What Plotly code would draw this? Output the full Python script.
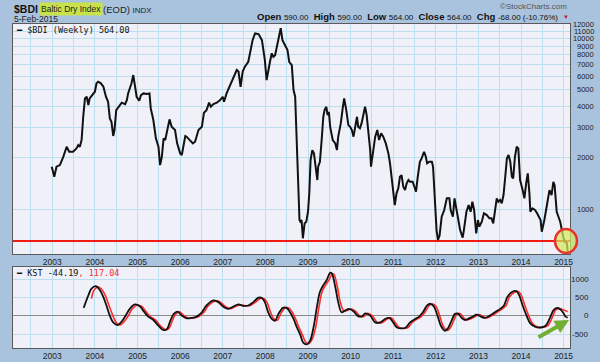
import math
import plotly.graph_objects as go

# ---------------- data ----------------
bdi_dates = [
    "2002-12-27", "2003-01-18", "2003-02-06", "2003-03-07", "2003-04-05", "2003-05-04", "2003-05-26",
    "2003-06-28", "2003-07-27", "2003-08-11", "2003-08-25", "2003-09-09", "2003-09-23", "2003-10-08",
    "2003-10-23", "2003-11-06", "2003-11-17", "2003-12-16", "2004-01-01", "2004-01-15", "2004-01-30",
    "2004-02-21", "2004-03-14", "2004-04-05", "2004-04-23", "2004-05-08", "2004-05-22", "2004-06-06",
    "2004-06-17", "2004-07-02", "2004-07-13", "2004-07-27", "2004-08-18", "2004-09-16", "2004-10-01",
    "2004-10-12", "2004-10-26", "2004-11-10", "2004-11-25", "2004-12-09", "2004-12-24", "2005-01-15",
    "2005-01-30", "2005-02-21", "2005-03-22", "2005-04-13", "2005-04-24", "2005-05-16", "2005-06-07",
    "2005-06-29", "2005-07-13", "2005-07-28", "2005-08-12", "2005-08-26", "2005-09-14", "2005-10-02",
    "2005-10-20", "2005-11-18", "2005-12-06", "2006-01-01", "2006-01-15", "2006-01-30", "2006-02-14",
    "2006-02-25", "2006-03-23", "2006-04-20", "2006-05-09", "2006-06-07", "2006-07-06", "2006-07-24",
    "2006-08-15", "2006-09-06", "2006-09-21", "2006-10-13", "2006-11-11", "2006-12-10", "2007-01-01",
    "2007-01-12", "2007-02-03", "2007-03-04", "2007-04-02", "2007-05-01", "2007-05-16", "2007-06-03",
    "2007-06-21", "2007-07-10", "2007-08-08", "2007-08-23", "2007-09-14", "2007-10-05", "2007-11-04",
    "2007-12-03", "2007-12-14", "2007-12-28", "2008-01-12", "2008-01-26", "2008-02-10", "2008-02-25",
    "2008-03-10", "2008-03-25", "2008-04-12", "2008-05-01", "2008-05-12", "2008-05-27", "2008-06-18",
    "2008-07-09", "2008-07-24", "2008-08-15", "2008-08-30", "2008-09-13", "2008-09-28", "2008-10-13",
    "2008-10-20", "2008-10-27", "2008-11-07", "2008-11-18", "2008-12-03", "2008-12-17", "2009-01-01",
    "2009-01-12", "2009-01-23", "2009-02-07", "2009-02-21", "2009-03-11", "2009-03-22", "2009-03-29",
    "2009-04-13", "2009-04-28", "2009-05-12", "2009-05-23", "2009-06-07", "2009-06-18", "2009-06-29",
    "2009-07-10", "2009-08-01", "2009-08-23", "2009-09-06", "2009-09-17", "2009-10-09", "2009-10-27",
    "2009-11-07", "2009-11-25", "2009-12-13", "2009-12-28", "2010-01-12", "2010-01-26", "2010-02-10",
    "2010-02-25", "2010-03-07", "2010-03-22", "2010-04-05", "2010-04-20", "2010-05-05", "2010-05-19",
    "2010-06-03", "2010-06-18", "2010-06-25", "2010-07-09", "2010-07-31", "2010-08-18", "2010-09-02",
    "2010-09-20", "2010-10-08", "2010-10-30", "2010-11-21", "2010-12-05", "2010-12-20", "2011-01-01",
    "2011-01-15", "2011-01-30", "2011-02-14", "2011-02-28", "2011-03-14", "2011-03-29", "2011-04-13",
    "2011-04-27", "2011-05-12", "2011-05-26", "2011-06-17", "2011-07-02", "2011-07-16", "2011-07-31",
    "2011-08-18", "2011-09-02", "2011-09-23", "2011-10-08", "2011-10-19", "2011-11-07", "2011-11-29",
    "2011-12-09", "2011-12-24", "2012-01-08", "2012-01-20", "2012-02-03", "2012-02-21", "2012-03-14",
    "2012-04-05", "2012-04-27", "2012-05-08", "2012-05-27", "2012-06-10", "2012-06-25", "2012-07-13",
    "2012-07-28", "2012-08-19", "2012-08-29", "2012-09-20", "2012-10-09", "2012-10-26", "2012-11-10",
    "2012-11-25", "2012-12-13", "2012-12-28", "2013-01-08", "2013-01-30", "2013-02-17", "2013-03-14",
    "2013-04-05", "2013-04-23", "2013-05-08", "2013-05-22", "2013-06-07", "2013-06-21", "2013-07-06",
    "2013-07-20", "2013-08-04", "2013-08-19", "2013-09-02", "2013-09-16", "2013-10-01", "2013-10-15",
    "2013-10-26", "2013-11-10", "2013-11-25", "2013-12-09", "2013-12-24", "2014-01-15", "2014-01-30",
    "2014-02-14", "2014-02-28", "2014-03-14", "2014-03-22", "2014-04-09", "2014-05-01", "2014-05-19",
    "2014-06-03", "2014-06-18", "2014-06-28", "2014-07-09", "2014-07-20", "2014-08-04", "2014-08-19",
    "2014-09-02", "2014-09-20", "2014-10-05", "2014-10-16", "2014-10-23", "2014-11-03", "2014-11-18",
    "2014-12-03", "2014-12-17", "2014-12-28", "2015-01-12", "2015-01-29", "2015-02-05",
]
bdi_values = [
    1770, 1546, 1770, 1810, 2024, 2317, 2166,
    2166, 2267, 2370, 2317, 2537, 3473, 4451,
    4551, 4064, 4451, 4760, 4872, 5455, 5580,
    5455, 5208, 4551, 4255, 3399, 3250, 2680,
    2904, 3800, 3889, 4010, 4200, 4120, 4350,
    4760, 5030, 5455, 6100, 5208, 4551, 4316,
    4650, 4760, 4720, 4760, 3889, 3325, 2597,
    2317, 1810, 2024, 2597, 2537, 2971, 3354,
    3033, 2904, 2425, 2120, 2073, 2317, 2680,
    2655, 2537, 2425, 2479, 2904, 3033, 3667,
    3800, 4200, 3975, 4120, 4200, 4350, 4551,
    4255, 4760, 5330, 5830, 6530, 6390, 5208,
    6390, 6830, 7300, 8180, 9770, 10700, 10600,
    9770, 8560, 7470, 5700, 6530, 7300, 8180,
    7810, 7980, 9340, 10930, 11470, 9770, 9140,
    8560, 7300, 6980, 4980, 4551, 2317, 1084,
    862, 843, 862, 674, 824, 843, 964,
    1236, 1936, 2215, 2120, 1692, 1479, 1770,
    1892, 2537, 3473, 3800, 3975, 3555, 3715,
    3033, 2537, 2425, 2215, 2655, 3176, 3975,
    4451, 3800, 3103, 3033, 2904, 2655, 3033,
    3473, 3033, 2971, 3176, 3635, 3975, 3555,
    2904, 2215, 1770, 2120, 2655, 2904, 2537,
    2780, 2655, 2425, 2120, 1852, 1546, 1292,
    1055, 1236, 1322, 1546, 1581, 1350, 1292,
    1414, 1479, 1445, 1445, 1350, 1263, 1546,
    1892, 1980, 2166, 2024, 1852, 1892, 1892,
    1770, 1180, 753, 660, 700, 901, 987,
    1155, 1155, 987, 901, 1155, 987, 862,
    753, 680, 750, 964, 1055, 964, 1103,
    987, 720, 862, 788, 843, 944, 922,
    882, 882, 824, 964, 1155, 1103, 1129,
    1080, 1208, 1546, 1980, 2073, 1892, 1546,
    1512, 2024, 2317, 2267, 1479, 1292, 1155,
    1414, 1618, 1236, 964, 1009, 987, 944,
    901, 862, 736, 788, 862, 987, 1129,
    1292, 1208, 1445, 1381, 1236, 964, 901,
    843, 753, 688, 643, 632, 564,
]

kst_dates = [
    "2003-09-27", "2003-11-06", "2003-12-03", "2004-01-11", "2004-02-14", "2004-03-14", "2004-04-09",
    "2004-05-08", "2004-06-06", "2004-07-13", "2004-08-11", "2004-09-16", "2004-10-26", "2004-12-09",
    "2005-01-22", "2005-02-25", "2005-04-02", "2005-05-16", "2005-06-29", "2005-08-12", "2005-09-10",
    "2005-10-09", "2005-11-07", "2005-12-09", "2006-01-15", "2006-02-25", "2006-04-09", "2006-05-22",
    "2006-07-06", "2006-08-15", "2006-10-13", "2006-11-25", "2007-01-04", "2007-02-17", "2007-04-02",
    "2007-05-16", "2007-06-25", "2007-08-08", "2007-09-20", "2007-11-04", "2007-12-03", "2007-12-28",
    "2008-01-26", "2008-02-25", "2008-03-25", "2008-04-23", "2008-05-31", "2008-07-02", "2008-07-31",
    "2008-08-30", "2008-09-28", "2008-10-27", "2008-11-21", "2008-12-21", "2009-01-18", "2009-02-17",
    "2009-03-18", "2009-04-13", "2009-05-12", "2009-06-10", "2009-07-10", "2009-07-24", "2009-08-23",
    "2009-09-17", "2009-10-16", "2009-11-14", "2009-12-20", "2010-01-26", "2010-02-28", "2010-04-05",
    "2010-05-08", "2010-06-18", "2010-07-31", "2010-09-13", "2010-10-23", "2010-11-29", "2011-01-01",
    "2011-02-03", "2011-03-14", "2011-04-20", "2011-05-26", "2011-07-09", "2011-08-11", "2011-09-13",
    "2011-10-19", "2011-11-17", "2011-12-16", "2012-01-19", "2012-02-14", "2012-03-21", "2012-04-16",
    "2012-05-16", "2012-06-14", "2012-07-13", "2012-08-11", "2012-09-05", "2012-10-04", "2012-11-14",
    "2012-12-16", "2013-01-22", "2013-02-25", "2013-04-09", "2013-05-22", "2013-07-06", "2013-08-08",
    "2013-09-06", "2013-10-16", "2013-11-21", "2013-12-17", "2014-01-15", "2014-02-21", "2014-03-22",
    "2014-05-01", "2014-06-18", "2014-07-31", "2014-09-06", "2014-10-09", "2014-11-11", "2014-12-09",
    "2015-01-01", "2015-01-18", "2015-02-05",
]
kst_values = [
    222, 564, 750, 814, 703, 517, 286,
    8, -178, -250, -178, -19, 194, 314,
    258, 119, -19, -111, -269, -389, -361,
    -131, 56, 119, 8, -67, -56, -19,
    100, 286, 425, 378, 258, 194, 258,
    314, 278, 286, 378, 500, 489, 378,
    100, -83, -131, 56, 222, 222, 100,
    -83, -317, -519, -733, -778, -686, -317,
    239, 656, 842, 981, 1183, 1167, 794,
    378, 100, 147, 194, 128, 8, -19,
    72, 8, -178, -178, -83, -56, -178,
    -317, -344, -317, -178, -83, -19, 100,
    286, 333, 258, -19, -269, -408, -333,
    -131, 56, 56, -56, -111, -83, -19,
    36, -19, -56, 8, 100, 194, 286,
    517, 656, 683, 564, 286, -19, -206,
    -297, -317, -269, -56, 167, 222, 167,
    72, -19, -44.19,
]

signal_dates = [
    "2003-12-03", "2003-12-24", "2004-01-30", "2004-03-07", "2004-04-05", "2004-05-01", "2004-06-03",
    "2004-07-02", "2004-08-04", "2004-09-02", "2004-10-09", "2004-11-17", "2004-12-28", "2005-02-06",
    "2005-03-14", "2005-04-20", "2005-06-03", "2005-07-16", "2005-08-30", "2005-09-27", "2005-10-26",
    "2005-11-25", "2005-12-28", "2006-02-03", "2006-03-14", "2006-04-27", "2006-06-10", "2006-07-24",
    "2006-09-02", "2006-10-31", "2006-12-13", "2007-01-22", "2007-03-07", "2007-04-20", "2007-06-03",
    "2007-07-13", "2007-08-26", "2007-10-09", "2007-11-21", "2007-12-21", "2008-01-15", "2008-02-14",
    "2008-03-14", "2008-04-13", "2008-05-12", "2008-06-18", "2008-07-20", "2008-08-19", "2008-09-16",
    "2008-10-16", "2008-11-14", "2008-12-09", "2009-01-08", "2009-02-06", "2009-03-07", "2009-04-05",
    "2009-05-01", "2009-05-31", "2009-06-29", "2009-07-28", "2009-08-11", "2009-09-10", "2009-10-05",
    "2009-11-04", "2009-12-03", "2010-01-08", "2010-02-14", "2010-03-18", "2010-04-23", "2010-05-27",
    "2010-07-05", "2010-08-19", "2010-10-01", "2010-11-10", "2010-12-17", "2011-01-19", "2011-02-21",
    "2011-04-02", "2011-05-08", "2011-06-14", "2011-07-27", "2011-08-30", "2011-10-01", "2011-11-07",
    "2011-12-06", "2012-01-04", "2012-02-06", "2012-03-03", "2012-04-09", "2012-05-04", "2012-06-03",
    "2012-07-02", "2012-07-31", "2012-08-29", "2012-09-24", "2012-10-23", "2012-12-03", "2013-01-04",
    "2013-02-10", "2013-03-14", "2013-04-27", "2013-06-10", "2013-07-24", "2013-08-26", "2013-09-24",
    "2013-11-03", "2013-12-09", "2014-01-04", "2014-02-03", "2014-03-11", "2014-04-09", "2014-05-19",
    "2014-07-05", "2014-08-19", "2014-09-24", "2014-10-26", "2014-11-29", "2014-12-28", "2015-01-18",
    "2015-02-05",
]
signal_values = [
    472, 700, 794, 700, 517, 286, 8,
    -178, -250, -178, -19, 194, 300, 258,
    119, -19, -111, -269, -375, -340, -131,
    56, 110, 8, -60, -56, -19, 100,
    286, 410, 378, 258, 200, 258, 300,
    278, 286, 378, 480, 470, 378, 110,
    -80, -120, 56, 215, 215, 100, -83,
    -317, -519, -700, -760, -640, -317, 239,
    656, 842, 981, 1150, 1140, 794, 378,
    140, 150, 190, 128, 8, -19, 72,
    8, -178, -178, -83, -56, -178, -317,
    -344, -317, -178, -83, -19, 100, 286,
    325, 258, -19, -269, -400, -333, -131,
    56, 56, -56, -111, -83, -19, 36,
    -19, -56, 8, 100, 194, 286, 517,
    640, 670, 564, 286, -19, -206, -297,
    -317, -269, -56, 167, 200, 170, 140,
    117.04,
]

support_level = 650
price_ticks = [1000, 2000, 3000, 4000, 5000, 6000, 7000, 8000, 9000, 10000, 11000, 12000]
kst_ticks = [-500, 0, 500, 1000]
header_date = "5-Feb-2015"
quote_open, quote_high, quote_low, quote_close = 590.00, 590.00, 564.00, 564.00
quote_chg, quote_pct = -68.00, -10.76

# ---------------- styling ----------------
W, H = 600, 362
ML, MR, MT, MB = 13, 30, 24, 14
PW, PH = W - ML - MR, H - MT - MB
FRAME = "#a9c3df"
PLOTBG = "#f0f1f8"
GRID = "#bcdff0"
AXLINE = "#5a5a5a"
TXT = "#222222"
SANS = "Liberation Sans, Arial, sans-serif"
MONO = "DejaVu Sans Mono, monospace"


def px(x):
    return (x - ML) / PW


def py(y):
    return (H - MB - y) / PH


main_bottom = py(254)
lower_top = py(267)
xrange_ = ["2002-01-29", "2015-02-25"]

fig = go.Figure()

# horizontal support level across the whole price panel
fig.add_trace(go.Scatter(x=xrange_, y=[support_level, support_level], mode="lines",
                         line=dict(color="#ee1c10", width=2), xaxis="x", yaxis="y",
                         showlegend=False, hoverinfo="skip", cliponaxis=True))
fig.add_trace(go.Scatter(x=bdi_dates, y=bdi_values, mode="lines",
                         line=dict(color="#111111", width=2), xaxis="x", yaxis="y",
                         showlegend=False, hoverinfo="skip"))
fig.add_trace(go.Scatter(x=signal_dates, y=signal_values, mode="lines",
                         line=dict(color="#ff2a2a", width=1.6, shape="spline", smoothing=1.0),
                         xaxis="x2", yaxis="y2", showlegend=False, hoverinfo="skip"))
fig.add_trace(go.Scatter(x=kst_dates, y=kst_values, mode="lines",
                         line=dict(color="#111111", width=1.8, shape="spline", smoothing=1.0),
                         xaxis="x2", yaxis="y2", showlegend=False, hoverinfo="skip"))

xcommon = dict(type="date", range=xrange_, tick0="2003-01-01", dtick="M12", tickformat="%Y",
               showgrid=True, gridcolor=GRID, gridwidth=1, automargin=False,
               minor=dict(dtick="M6", showgrid=True, gridcolor=GRID, gridwidth=1),
               showline=True, linecolor=AXLINE, linewidth=1, mirror=True,
               ticks="", tickfont=dict(family=SANS, size=8.5, color=TXT), zeroline=False)

fig.update_layout(
    width=W, height=H,
    margin=dict(l=ML, r=MR, t=MT, b=MB, autoexpand=False),
    paper_bgcolor=FRAME, plot_bgcolor=PLOTBG,
    xaxis=dict(domain=[0, 1], anchor="y", **xcommon),
    yaxis=dict(domain=[main_bottom, 1], anchor="x", type="log", side="right",
               range=[math.log10(545), math.log10(12150)], automargin=False,
               tickvals=price_ticks, showticklabels=False, ticks="",
               showgrid=True, gridcolor=GRID, gridwidth=1,
               showline=True, linecolor=AXLINE, linewidth=1, mirror=True, zeroline=False),
    xaxis2=dict(domain=[0, 1], anchor="y2", matches="x", **xcommon),
    yaxis2=dict(domain=[0, lower_top], anchor="x2", side="right", automargin=False,
                range=[-880, 1342], tickvals=kst_ticks, showticklabels=False, ticks="",
                showgrid=True, gridcolor=GRID, gridwidth=1,
                zeroline=True, zerolinecolor="#8a8a8a", zerolinewidth=1,
                showline=True, linecolor=AXLINE, linewidth=1, mirror=True),
)

annotations = []
# right-aligned price tick labels
for v in price_ticks:
    annotations.append(dict(xref="paper", yref="y", x=px(596), y=math.log10(v), text=str(v),
                            xanchor="right", yanchor="middle", showarrow=False,
                            font=dict(family=SANS, size=7.5, color=TXT)))
for v in kst_ticks:
    annotations.append(dict(xref="paper", yref="y2", x=px(591), y=v, text=str(v),
                            xanchor="right", yanchor="middle", showarrow=False,
                            font=dict(family=SANS, size=8, color=TXT)))

# header
annotations += [
    dict(xref="paper", yref="paper", x=px(12), y=py(9), text="<b>$BDI</b>", xanchor="left",
         yanchor="middle", showarrow=False, font=dict(family=SANS, size=10.5, color="#111")),
    dict(xref="paper", yref="paper", x=px(39), y=py(9), text="Baltic Dry Index", xanchor="left",
         yanchor="middle", showarrow=False, bgcolor="#c8e24a", borderpad=1,
         font=dict(family=SANS, size=8.5, color="#222")),
    dict(xref="paper", yref="paper", x=px(101), y=py(9),
         text="(EOD) <span style='font-size:8px'>INDX</span>", xanchor="left",
         yanchor="middle", showarrow=False, font=dict(family=SANS, size=9.5, color="#222")),
    dict(xref="paper", yref="paper", x=px(12), y=py(18.5), text=header_date, xanchor="left",
         yanchor="middle", showarrow=False, font=dict(family=SANS, size=8.5, color="#222")),
    dict(xref="paper", yref="paper", x=px(569), y=py(7), text="©StockCharts.com", xanchor="right",
         yanchor="middle", showarrow=False, font=dict(family=SANS, size=8, color="#555")),
    dict(xref="paper", yref="paper", x=px(560), y=py(17),
         text=(f"<b>Open</b> <span style='font-size:8px'>{quote_open:.2f}</span>  "
               f"<b>High</b> <span style='font-size:8px'>{quote_high:.2f}</span>  "
               f"<b>Low</b> <span style='font-size:8px'>{quote_low:.2f}</span>  "
               f"<b>Close</b> <span style='font-size:8px'>{quote_close:.2f}</span>  "
               f"<b>Chg</b> <span style='font-size:8px'>{quote_chg:.2f} ({quote_pct:.2f}%)</span>"),
         xanchor="right", yanchor="middle", showarrow=False,
         font=dict(family=SANS, size=9.5, color="#111")),
    dict(xref="paper", yref="paper", x=px(561), y=py(17), text="▼", xanchor="left",
         yanchor="middle", showarrow=False, font=dict(family=SANS, size=6, color="#d01030")),
    # in-panel legends
    dict(xref="paper", yref="paper", x=px(14), y=py(30),
         text=f"━ $BDI (Weekly) {bdi_values[-1]:.2f}", xanchor="left", yanchor="middle",
         showarrow=False, font=dict(family=MONO, size=8.5, color="#111")),
    dict(xref="paper", yref="paper", x=px(14), y=py(273),
         text=(f"━ KST {kst_values[-1]:.2f}<span style='color:#ff2a2a'>, "
               f"{signal_values[-1]:.2f}</span>"),
         xanchor="left", yanchor="middle", showarrow=False,
         font=dict(family=MONO, size=8.5, color="#111")),
    # green arrow
    dict(xref="paper", yref="paper", x=px(569), y=py(320), ax=-32, ay=18, text="",
         showarrow=True, arrowhead=2, arrowsize=0.7, arrowwidth=4, arrowcolor="#72ad34"),
]
fig.update_layout(annotations=annotations)

# red highlight circle at the break of support
fig.add_shape(type="circle", xref="paper", yref="paper",
              x0=px(555), x1=px(577), y0=py(253), y1=py(229),
              line=dict(color="#e8332a", width=2.5), fillcolor="rgba(214,234,96,0.72)",
              layer="above")

fig.write_html("out.html", config={"displayModeBar": False},
               post_script="document.body.style.margin='0';document.body.style.padding='0';")
